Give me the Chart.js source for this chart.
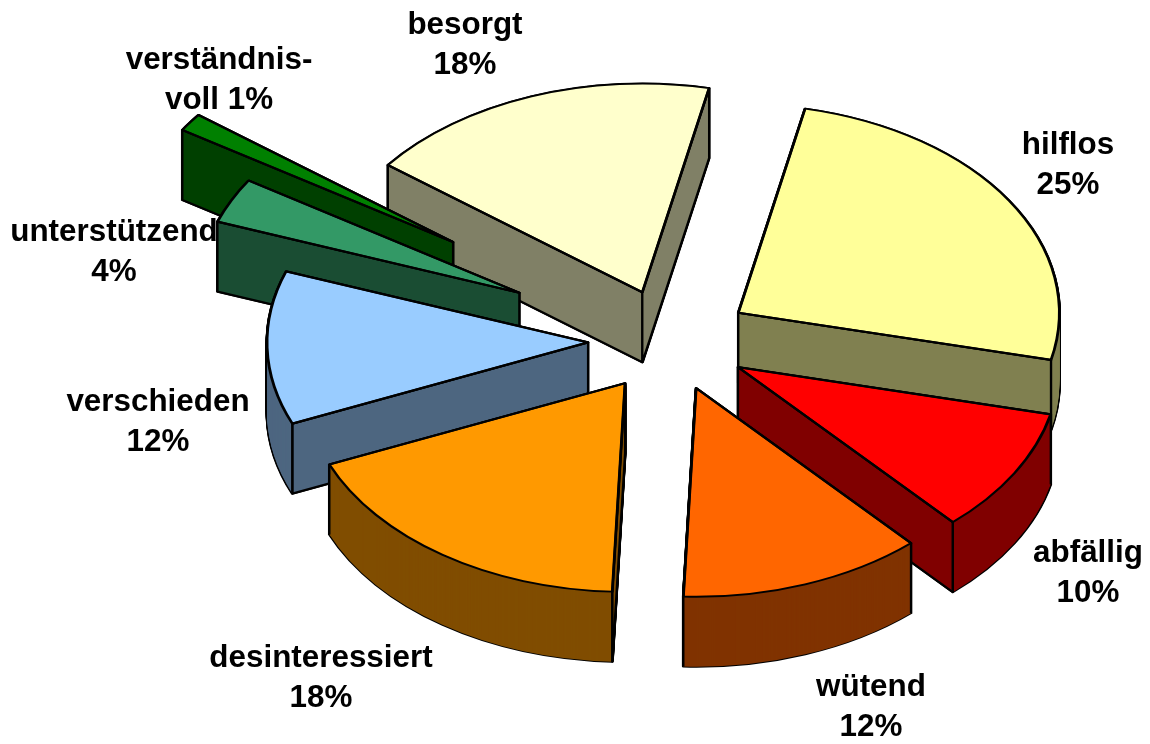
<!DOCTYPE html>
<html>
<head>
<meta charset="utf-8">
<style>html,body{margin:0;padding:0;background:#fff}canvas{display:block}</style>
<script src="https://cdn.jsdelivr.net/npm/chart.js@4"></script>
</head>
<body>
<canvas id="c" width="1150" height="744"></canvas>
<script>
const categories = ['hilflos','abfällig','wütend','desinteressiert','verschieden','unterstützend','verständnisvoll','besorgt'];
const values = [25.3,9.7,12.3,18,11.9,3.5,1.4,17.9];
const topColors = ['#FFFF99','#FF0000','#FF6600','#FF9900','#99CCFF','#339966','#008000','#FFFFCC'];
const sideColors = ['#808050','#800000','#803300','#804D00','#4D6680','#1A4D33','#004000','#808066'];
const labelLines = [['hilflos','25%'],['abfällig','10%'],['wütend','12%'],['desinteressiert','18%'],['verschieden','12%'],['unterstützend','4%'],['verständnis-','voll 1%'],['besorgt','18%']];
const labelAnchors = [[1068,145],[1088,553],[871,687],[321,658],[158,402],[114,232],[219,60],[465,25]];
const explode = [81,79,77,79,82,168,265,80];
const paintOrder = [7,0,6,5,4,1,3,2];
const SQUASH = 0.65, DEPTH = 70, LINE = 2.2;

const pie3d = {
  id: 'pie3d',
  beforeDatasetDraw(chart, args) {
    const ctx = chart.ctx, arcs = args.meta.data;
    paintOrder.forEach(i => {
      const arc = arcs[i];
      const mid = (arc.startAngle + arc.endAngle) / 2;
      const sx = explode[i] * Math.cos(mid), sy = explode[i] * Math.sin(mid) * SQUASH;
      const paint = (dy, opts) => {
        ctx.save();
        ctx.translate(sx + arc.x, sy + arc.y + dy);
        ctx.scale(1, SQUASH);
        ctx.translate(-arc.x, -arc.y);
        const saved = arc.options;
        arc.options = Object.assign({}, saved, opts);
        arc.draw(ctx);
        arc.options = saved;
        ctx.restore();
      };
      const rim = a => [arc.x + sx + arc.outerRadius * Math.cos(a), arc.y + sy + arc.outerRadius * Math.sin(a) * SQUASH];
      const apex = [arc.x + sx, arc.y + sy];
      const p0 = rim(arc.startAngle), p1 = rim(arc.endAngle);
      const poly = pts => {
        ctx.beginPath();
        pts.forEach((p, n) => n ? ctx.lineTo(p[0], p[1]) : ctx.moveTo(p[0], p[1]));
      };
      const wall = p => [apex, p, [p[0], p[1] + DEPTH], [apex[0], apex[1] + DEPTH]];
      // silhouette and curved wall
      for (let d = DEPTH; d >= 0; d -= 1) {
        paint(d, {backgroundColor: '#000', borderColor: '#000', borderWidth: 3, borderJoinStyle: 'round'});
      }
      for (let d = DEPTH; d >= 0; d -= 1) {
        paint(d, {backgroundColor: sideColors[i], borderWidth: 0});
      }
      ctx.save();
      ctx.strokeStyle = '#000';
      ctx.lineWidth = LINE;
      ctx.lineJoin = 'round';
      ctx.fillStyle = sideColors[i];
      // flat walls that face the viewer
      const startFaces = -Math.cos(arc.startAngle) > 0, endFaces = Math.cos(arc.endAngle) > 0;
      if (startFaces) { poly(wall(p0)); ctx.closePath(); ctx.fill(); ctx.stroke(); }
      if (endFaces) { poly(wall(p1)); ctx.closePath(); ctx.fill(); ctx.stroke(); }
      // rim corners on the curved wall
      if (Math.sin(arc.startAngle) > 0) { poly([p0, [p0[0], p0[1] + DEPTH]]); ctx.stroke(); }
      if (Math.sin(arc.endAngle) > 0) { poly([p1, [p1[0], p1[1] + DEPTH]]); ctx.stroke(); }
      ctx.restore();
      // top face
      paint(0, {backgroundColor: topColors[i], borderColor: '#000', borderWidth: 2.8, borderJoinStyle: 'round'});
      ctx.save();
      ctx.strokeStyle = '#000';
      ctx.lineWidth = LINE;
      ctx.lineJoin = 'round';
      poly([p0, apex, p1]);
      ctx.stroke();
      ctx.restore();
    });
    return false;
  },
  afterDraw(chart) {
    const ctx = chart.ctx;
    ctx.save();
    ctx.fillStyle = '#000';
    ctx.font = 'bold 31.4px "Liberation Sans", Arial, sans-serif';
    ctx.textAlign = 'center';
    ctx.textBaseline = 'middle';
    labelLines.forEach((lines, i) => {
      lines.forEach((t, j) => ctx.fillText(t, labelAnchors[i][0], labelAnchors[i][1] + j * 40));
    });
    ctx.restore();
  }
};

new Chart(document.getElementById('c'), {
  type: 'pie',
  data: {
    labels: categories,
    datasets: [{data: values, backgroundColor: topColors, borderColor: '#000', borderWidth: 2}]
  },
  options: {
    responsive: false,
    animation: false,
    events: [],
    rotation: 12,
    radius: 321,
    layout: {padding: {left: 190, bottom: 62}},
    plugins: {legend: {display: false}, tooltip: {enabled: false}}
  },
  plugins: [pie3d]
});
</script>
</body>
</html>
